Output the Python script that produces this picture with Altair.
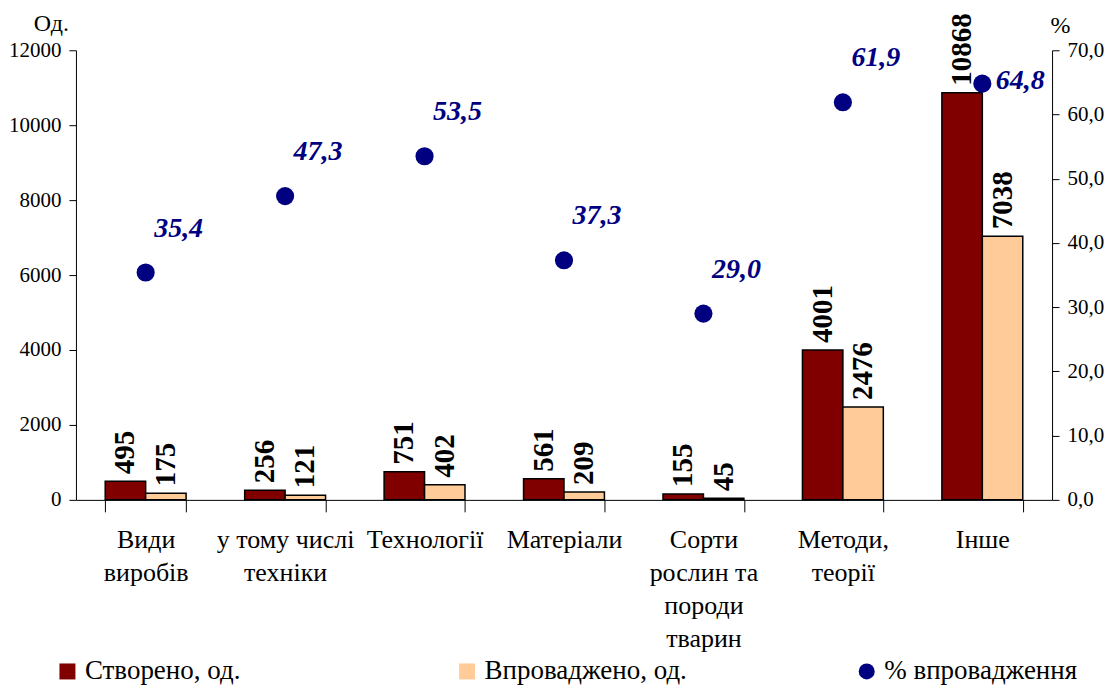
import altair as alt
import pandas as pd

categories = ["Види|виробів", "у тому числі|техніки", "Технології", "Матеріали",
              "Сорти|рослин та|породи|тварин", "Методи,|теорії", "Інше"]
created = [495, 256, 751, 561, 155, 4001, 10868]
implemented = [175, 121, 402, 209, 45, 2476, 7038]
pct = [35.4, 47.3, 53.5, 37.3, 29.0, 61.9, 64.8]

S1 = "Створено, од."
S2 = "Впроваджено, од."
S3 = "% впровадження"

bars_df = pd.DataFrame(
    [{"cat": c, "series": S1, "val": v} for c, v in zip(categories, created)]
    + [{"cat": c, "series": S2, "val": v} for c, v in zip(categories, implemented)]
)
pct_df = pd.DataFrame({"cat": categories, "pct": pct, "series": S3, "idx": list(range(len(categories)))})
pct_df["lbl"] = [f"{p:.1f}".replace(".", ",") for p in pct]

FONT = "Liberation Serif"

xenc = alt.X("cat:N", sort=categories, title=None,
             scale=alt.Scale(paddingInner=0.42, paddingOuter=0.21),
             axis=alt.Axis(labelExpr="split(datum.label, '|')", labelAngle=0,
                           labelFontSize=26, labelColor="black",
                           labelLineHeight=33, labelPadding=15, labelBaseline="top",
                           tickBand="extent", tickSize=12, tickColor="black",
                           domainColor="black", labelLimit=300))
xoff = alt.XOffset("series:N", sort=[S1, S2])

color_scale = alt.Scale(domain=[S1, S2, S3], range=["#800000", "#FFCC99", "#000080"])
shape_scale = alt.Scale(domain=[S1, S2, S3], range=["square", "square", "circle"])
legend = alt.Legend(
    title=None, orient="none", legendX=-22, legendY=608, direction="horizontal",
    gridAlign="all", columnPadding=166, labelFontSize=27,
    labelColor="black", symbolSize=256, labelLimit=400, labelOffset=4,
    symbolStrokeColor="black", symbolStrokeWidth=1.5, symbolOpacity=1,
)

yleft = alt.Y("val:Q", title="Од.",
              scale=alt.Scale(domain=[0, 12000]),
              axis=alt.Axis(values=list(range(0, 12001, 2000)), format="d",
                            grid=False, labelFontSize=21,
                            labelColor="black", tickColor="black", domainColor="black",
                            tickSize=7, labelPadding=8,
                            titleAngle=0, titleFontSize=24,
                            titleFontWeight="normal", titleColor="black",
                            titleX=-25, titleY=-27, titleAlign="center",
                            titleBaseline="middle"))

bars = alt.Chart(bars_df).mark_bar(stroke="black", strokeWidth=1.5).encode(
    x=xenc, xOffset=xoff, y=yleft,
    color=alt.Color("series:N", scale=color_scale, legend=legend),
)
bar_text = alt.Chart(bars_df).mark_text(
    angle=270, align="left", baseline="middle", dx=7,
    fontSize=29, fontWeight="bold", color="black"
).encode(x=alt.X("cat:N", sort=categories), xOffset=xoff, y=yleft, text="val:Q")

left = alt.layer(bars, bar_text)

yright = alt.Y("pct:Q", title="%", scale=alt.Scale(domain=[0, 70]),
               axis=alt.Axis(orient="right", values=list(range(0, 71, 10)),
                             labelExpr="replace(format(datum.value, '.1f'), '.', ',')",
                             grid=False, labelFontSize=21,
                             labelColor="black", tickColor="black", domainColor="black",
                             tickSize=7, labelPadding=8,
                             titleAngle=0, titleFontSize=24,
                             titleFontWeight="normal", titleColor="black",
                             titleX=8, titleY=-25, titleAlign="center",
                             titleBaseline="middle"))

points = alt.Chart(pct_df).mark_point(size=330, opacity=1, filled=True).encode(
    x=alt.X("cat:N", sort=categories), y=yright,
    color=alt.Color("series:N", scale=color_scale, legend=legend),
    shape=alt.Shape("series:N", scale=shape_scale, legend=legend),
)
ptext = alt.Chart(pct_df).transform_filter("datum.idx < 6").mark_text(
    dx=33, dy=-44, fontSize=28, fontWeight="bold", fontStyle="italic",
    color="#000080"
).encode(x=alt.X("cat:N", sort=categories), y=yright, text="lbl:N")
ptext_last = alt.Chart(pct_df).transform_filter("datum.idx == 6").mark_text(
    dx=38, dy=-3, fontSize=28, fontWeight="bold", fontStyle="italic",
    color="#000080"
).encode(x=alt.X("cat:N", sort=categories), y=yright, text="lbl:N")

right = alt.layer(points, ptext, ptext_last)

chart = alt.layer(left, right).resolve_scale(y="independent").properties(
    width=977, height=450,
    autosize=alt.AutoSizeParams(type="none"),
    padding={"left": 68, "top": 42, "right": 52, "bottom": 186},
).configure(background="white", font=FONT).configure_view(
    stroke=None
).configure_axis(labelFont=FONT, titleFont=FONT).configure_legend(
    labelFont=FONT
).configure_text(font=FONT)

chart.save("out.html", embed_options={"renderer": "svg", "actions": False})
